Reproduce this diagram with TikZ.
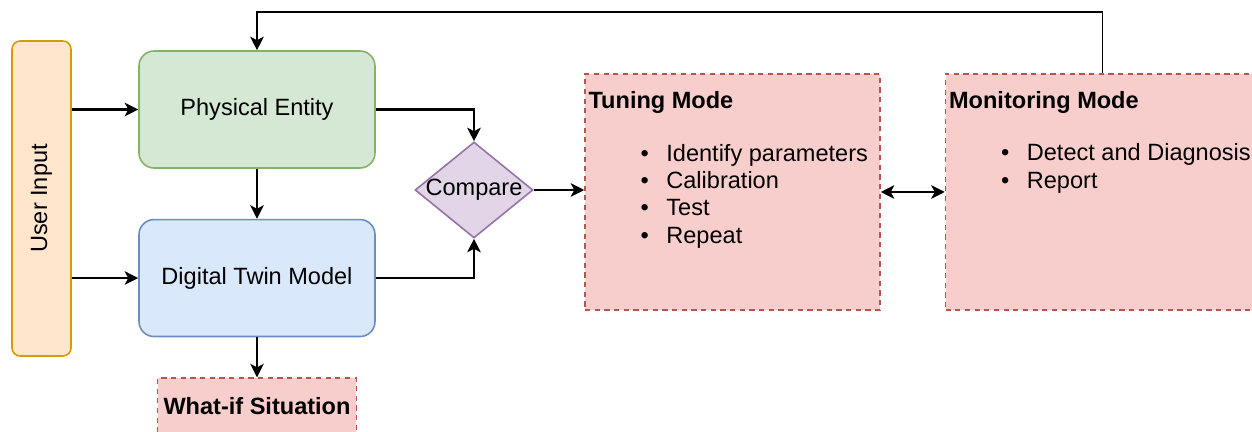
\documentclass[tikz,border=0pt]{standalone}
\usepackage{fontspec}
\setmainfont{Liberation Sans}
\usetikzlibrary{positioning,shapes.geometric,arrows.meta}

\definecolor{orangefill}{HTML}{FFE6CC}
\definecolor{orangeline}{HTML}{D79B00}
\definecolor{greenfill}{HTML}{D5E8D4}
\definecolor{greenline}{HTML}{82B366}
\definecolor{bluefill}{HTML}{DAE8FC}
\definecolor{blueline}{HTML}{6C8EBF}
\definecolor{purplefill}{HTML}{E1D5E7}
\definecolor{purpleline}{HTML}{9673A6}
\definecolor{redfill}{HTML}{F8CECC}
\definecolor{redline}{HTML}{B85450}

\begin{document}
\begin{tikzpicture}[
x=0.02cm, y=-0.02cm,
font=\fontsize{13.4}{15.6}\selectfont,
userblock/.style={rectangle, rounded corners=0.16cm, draw=orangeline, fill=orangefill, line width=0.9pt, minimum width=6.3cm, minimum height=1.18cm, rotate=90},
entityblock/.style={rectangle, rounded corners=0.3cm, draw=greenline, fill=greenfill, line width=0.9pt, minimum width=4.72cm, minimum height=2.34cm},
twinblock/.style={rectangle, rounded corners=0.3cm, draw=blueline, fill=bluefill, line width=0.9pt, minimum width=4.72cm, minimum height=2.34cm},
compareblock/.style={diamond, draw=purpleline, fill=purplefill, line width=0.9pt, minimum width=2.36cm, minimum height=1.92cm, inner sep=0pt},
modeblock/.style={rectangle, draw=redline, fill=redfill, line width=0.9pt, dash pattern=on 3pt off 2.5pt, minimum height=4.72cm},
modetitle/.style={font=\fontsize{13.4}{15.6}\selectfont\bfseries, anchor=base west, inner sep=0pt},
modelist/.style={align=left, anchor=base west, inner sep=0pt},
fleche/.style={-{Stealth[length=0.27cm, width=0.27cm, inset=0.07cm]}, line width=1.2pt},
]
    \useasboundingbox (0,0) rectangle (1252,432);
    \clip (0,0) rectangle (1252,432);
    % Espacements
    \def\decalage{56}

    % Blocs
    \node [userblock] (user) at (41.5,198.5) {User Input};
    \node [entityblock] (physical) at (257,109.5) {Physical Entity};
    \node [twinblock, below=1.0cm of physical] (twin) {Digital Twin Model};
    \node [modeblock, minimum width=3.94cm, minimum height=1.12cm, below=0.8cm of twin] (whatif) {\bfseries What-if Situation};
    \node [compareblock] (compare) at (474,190) {\makebox[0pt]{Compare}};
    \node [modeblock, minimum width=5.9cm] (tuning) at (732.5,192) {};
    \node [modeblock, minimum width=6.28cm, right=1.28cm of tuning] (monitor) {};

    % Textes des modes (base = derniere ligne)
    \node [modetitle] (tuningtitle) at ([shift={(4,35)}]tuning.north west) {Tuning Mode};
    \node [modelist] (tuninglist) at ([shift={(\decalage,170)}]tuning.north west)
        {\textbullet\hspace{10pt}Identify parameters\\ \textbullet\hspace{10pt}Calibration\\ \textbullet\hspace{10pt}Test\\ \textbullet\hspace{10pt}Repeat};
    \node [modetitle] (monitortitle) at ([shift={(4,35)}]monitor.north west) {Monitoring Mode};
    \node [modelist] (monitorlist) at ([shift={(\decalage,115)}]monitor.north west)
        {\textbullet\hspace{10pt}Detect and Diagnosis\\ \textbullet\hspace{10pt}Report};

    % Liens
    \coordinate (retour) at (0,12);
    \draw [fleche] (user.south |- physical.west) -- (physical.west);
    \draw [fleche] (user.south |- twin.west) -- (twin.west);
    \draw [fleche] (physical) -- (twin);
    \draw [fleche] (twin) -- (whatif);
    \draw [fleche] (physical.east) -| (compare.north);
    \draw [fleche] (twin.east) -| (compare.south);
    \draw [fleche] (compare.east) -- (compare.east -| tuning.west);
    \draw [fleche, {Stealth[length=0.27cm, width=0.27cm, inset=0.07cm]}-{Stealth[length=0.27cm, width=0.27cm, inset=0.07cm]}] (tuning.east) -- (monitor.west);
    \draw [fleche, line width=1.1pt] (monitor.north) -- (monitor.north |- retour) -| (physical.north);
\end{tikzpicture}
\end{document}
